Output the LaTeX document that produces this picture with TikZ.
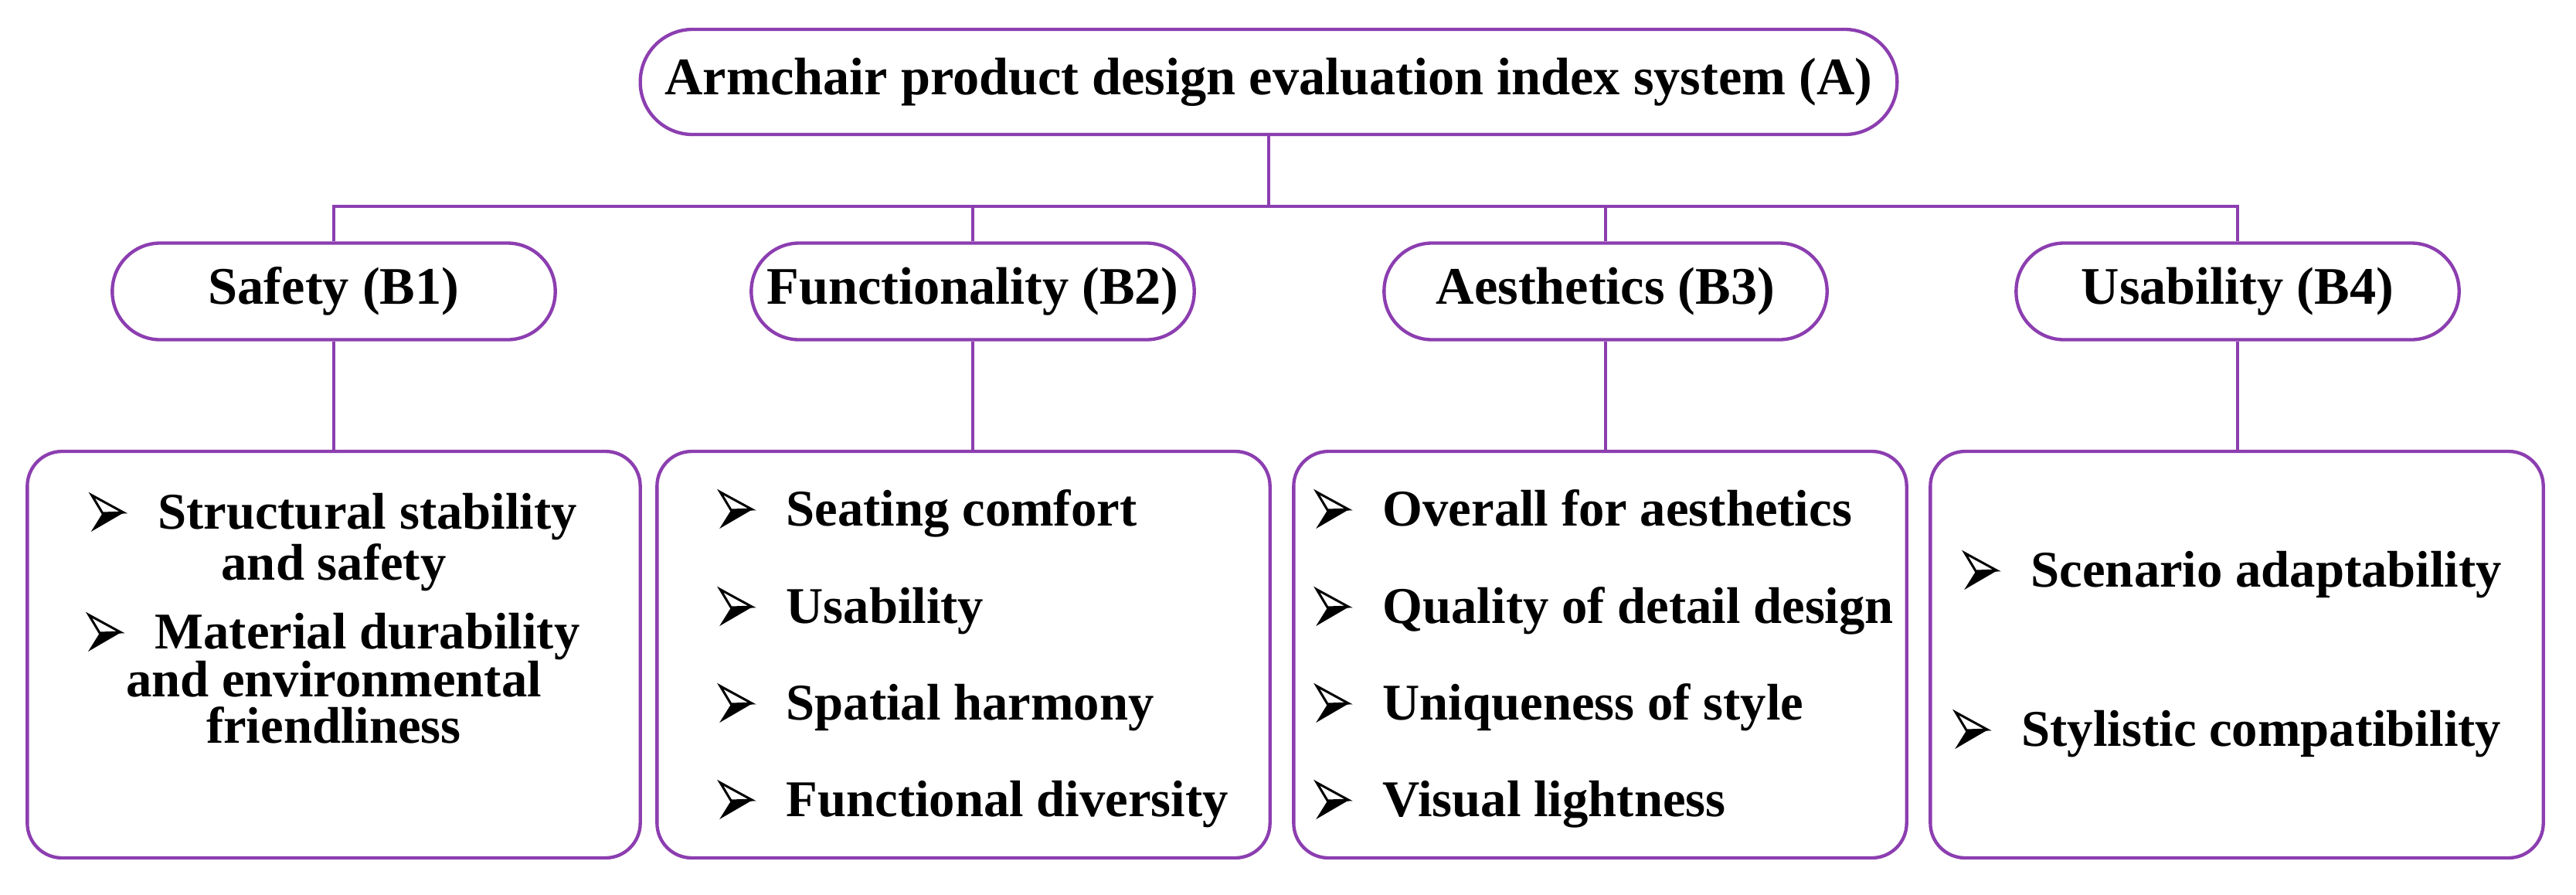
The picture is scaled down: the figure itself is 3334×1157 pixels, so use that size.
\documentclass[tikz,border=0pt]{standalone}
\usepackage{fontspec}
\setmainfont{Liberation Serif}
\definecolor{lineviolet}{RGB}{140,62,176}
% 3D arrowhead bullet (upper half outlined, lower half filled)
\newcommand{\bul}{\tikz[baseline=0pt,x=1pt,y=1pt,line join=miter]{%
  \fill[black] (4.5,6) -- (12.9,6.3) -- (0,-1.2) -- cycle;
  \draw[black,line width=0.9pt] (0.3,13.0) -- (12.6,6.3) -- (4.5,6) -- cycle;}\hspace{12.9pt}}
\begin{document}
\begin{tikzpicture}[x=0.3pt,y=-0.3pt,
  every node/.style={font=\fontsize{20.5}{24}\selectfont\bfseries, inner sep=0pt},
  pill/.style={draw=lineviolet, line width=1.3pt, fill=white, rounded corners=18.6pt,
    minimum width=172pt, minimum height=37.5pt},
  toppill/.style={draw=lineviolet, line width=1.3pt, fill=white, rounded corners=20.3pt,
    minimum width=488pt, minimum height=40.8pt},
  itembox/.style={draw=lineviolet, line width=1.3pt, fill=white, rounded corners=13.5pt,
    minimum width=238pt, minimum height=157.8pt},
  conn/.style={draw=lineviolet, line width=1.3pt},
  item/.style={anchor=base west, font=\fontsize{20}{24}\selectfont\bfseries},
  citem/.style={anchor=base, font=\fontsize{20}{24}\selectfont\bfseries}
]
\useasboundingbox (0,0) rectangle (3334,1157);

% top node
\node[toppill] (A) at (1642,106) {Armchair product design evaluation index system (A)};

% second level
\node[pill] (B1) at (432,377) {Safety (B1)};
\node[pill] (B2) at (1259,377) {Functionality (B2)};
\node[pill] (B3) at (2078,377) {Aesthetics (B3)};
\node[pill] (B4) at (2896,377) {Usability (B4)};

% item boxes
\node[itembox] (C1) at (432,847) {};
\node[itembox] (C2) at (1247,847) {};
\node[itembox] (C3) at (2071,847) {};
\node[itembox] (C4) at (2895,847) {};

% connectors
\coordinate (J) at (1642,267);
\draw[conn] (A.south) -- (J);
\draw[conn] (B1.north) |- (J) -| (B4.north);
\draw[conn] (B2.north) -- (B2.north |- J);
\draw[conn] (B3.north) -- (B3.north |- J);
\foreach \i in {1,2,3,4} {
  \draw[conn] (B\i.south) -- (B\i.south |- C\i.north);
}

% C1 items
\node[citem] (c1a) at (432,684) {\bul Structural stability};
\node[citem] (c1b) at (432,750) {and safety};
\node[citem] (c1c) at (432,839) {\bul Material durability};
\node[citem] (c1d) at (432,901) {and environmental};
\node[citem] (c1e) at (432,961) {friendliness};

% C2 items
\node[item] (c2a) at (930,680) {\bul Seating comfort};
\node[item] (c2b) at (930,806) {\bul Usability};
\node[item] (c2c) at (930,931) {\bul Spatial harmony};
\node[item] (c2d) at (930,1056) {\bul Functional diversity};

% C3 items
\node[item] (c3a) at (1702,680) {\bul Overall for aesthetics};
\node[item] (c3b) at (1702,806) {\bul Quality of detail design};
\node[item] (c3c) at (1702,931) {\bul Uniqueness of style};
\node[item] (c3d) at (1702,1056) {\bul Visual lightness};

% C4 items
\node[item] (c4a) at (2541,759) {\bul Scenario adaptability};
\node[item] (c4b) at (2529,965) {\bul Stylistic compatibility};
\end{tikzpicture}
\end{document}
